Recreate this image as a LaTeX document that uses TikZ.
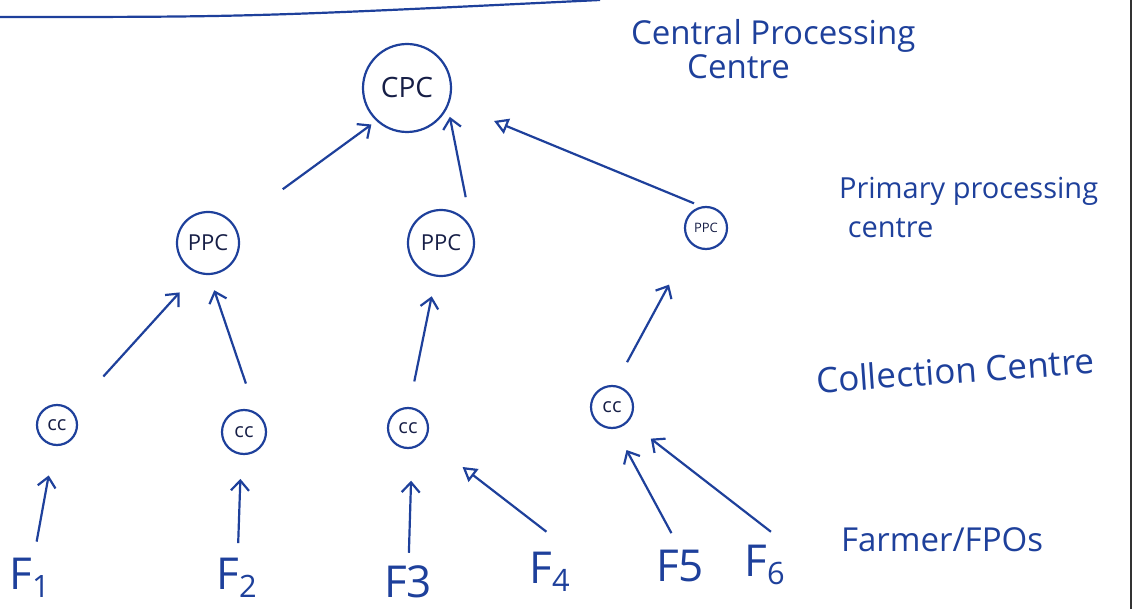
\documentclass[tikz,border=0pt]{standalone}
\usepackage{fontspec}
\setmainfont{Open Sans}
\usetikzlibrary{arrows.meta}
\definecolor{ink}{RGB}{30,64,155}
\definecolor{pencil}{RGB}{22,30,70}

\begin{document}
\begin{tikzpicture}[x=0.5pt, y=-0.5pt, ink, line width=1.1pt,
  every node/.style={circle, draw, inner sep=0pt, text=pencil},
  tag/.style={draw=none, rectangle, text=ink, align=left, anchor=west, font=\fontsize{16.5}{17}\selectfont},
  farm/.style={draw=none, rectangle, text=ink, font=\fontsize{22}{22}\selectfont},
  arr/.style={-{Straight Barb[length=5pt, width=9pt]}},
  open arr/.style={-{Triangle[open, length=7pt, width=8pt]}}]
  \useasboundingbox (0,0) rectangle (1133,609);
  \draw (0,17) .. controls (250,17) .. (600,0);
  \draw[black!80] (1131,0) -- (1131,609);
  \node (cpc) [minimum size=44pt, font=\fontsize{14}{14}\selectfont] at (407,88) {CPC};
  \node (ppc1) [minimum size=31pt, font=\fontsize{11}{11}\selectfont] at (208,243) {PPC};
  \node (ppc2) [minimum size=33pt, font=\fontsize{11}{11}\selectfont] at (441,243) {PPC};
  \node (ppc3) [minimum size=21pt, font=\fontsize{6.5}{6.5}\selectfont] at (706,228) {PPC};
  \node (cc1) [minimum size=20pt, font=\fontsize{10}{10}\selectfont] at (57,425) {cc};
  \node (cc2) [minimum size=22pt, font=\fontsize{10}{10}\selectfont] at (244,432) {cc};
  \node (cc3) [minimum size=20pt, font=\fontsize{10}{10}\selectfont] at (408,428) {cc};
  \node (cc4) [minimum size=21pt, font=\fontsize{10}{10}\selectfont] at (612,407) {cc};
  \node (f1) [farm] at (30,578) {F\textsubscript{1}};
  \node (f2) [farm] at (237,578) {F\textsubscript{2}};
  \node (f3) [farm] at (408,582) {F3};
  \node (f4) [farm] at (550,572) {F\textsubscript{4}};
  \node (f5) [farm] at (680,566) {F5};
  \node (f6) [farm] at (765,565) {F\textsubscript{6}};
  \node (central) [tag, anchor=north west] at (630,18) {Central Processing\\\hspace*{1.7em}Centre};
  \node (primary) [tag, anchor=north west, font=\fontsize{14.5}{19.5}\selectfont] at (838,176) {Primary processing\\\hspace*{0.3em}centre};
  \node (collect) [tag, rotate=4, font=\fontsize{17.5}{18}\selectfont] at (815,380) {Collection Centre};
  \node (fpo) [tag] at (840,540) {Farmer/FPOs};
  \draw[arr, shorten <=30pt, shorten >=3pt] (ppc1.35) -- (cpc.227);
  \draw[arr, shorten <=16pt, shorten >=5pt] (ppc2.25) -- (cpc.-25);
  \draw[open arr, shorten <=4pt, shorten >=24pt] (ppc3.102) -- (cpc.-19);
  \draw[arr, shorten <=23pt, shorten >=13pt] (cc1.43) -- (ppc1.-110);
  \draw[arr, shorten <=15pt, shorten >=8pt] (cc2.60) -- (ppc1.-88);
  \draw[arr, shorten <=13pt, shorten >=10pt] (cc3.87) -- (ppc2.-99);
  \draw[arr, shorten <=13pt, shorten >=23pt] (cc4.83) -- (ppc3.-133);
  \draw[arr, shorten <=8pt, shorten >=15pt] (f1) -- (cc1.-98);
  \draw[arr, shorten <=7pt, shorten >=12pt] (f2) -- (cc2.-97);
  \draw[arr, shorten <=6pt, shorten >=16pt] (f3) -- (cc3.-79);
  \draw[open arr, shorten <=16pt, shorten >=23pt] (f4.north east) -- (cc3.-31);
  \draw[arr, shorten <=9pt, shorten >=12pt] (f5.north) -- (cc4.-82);
  \draw[arr, shorten <=10pt, shorten >=14pt] (f6.north east) -- (cc4.-41);
\end{tikzpicture}
\end{document}
